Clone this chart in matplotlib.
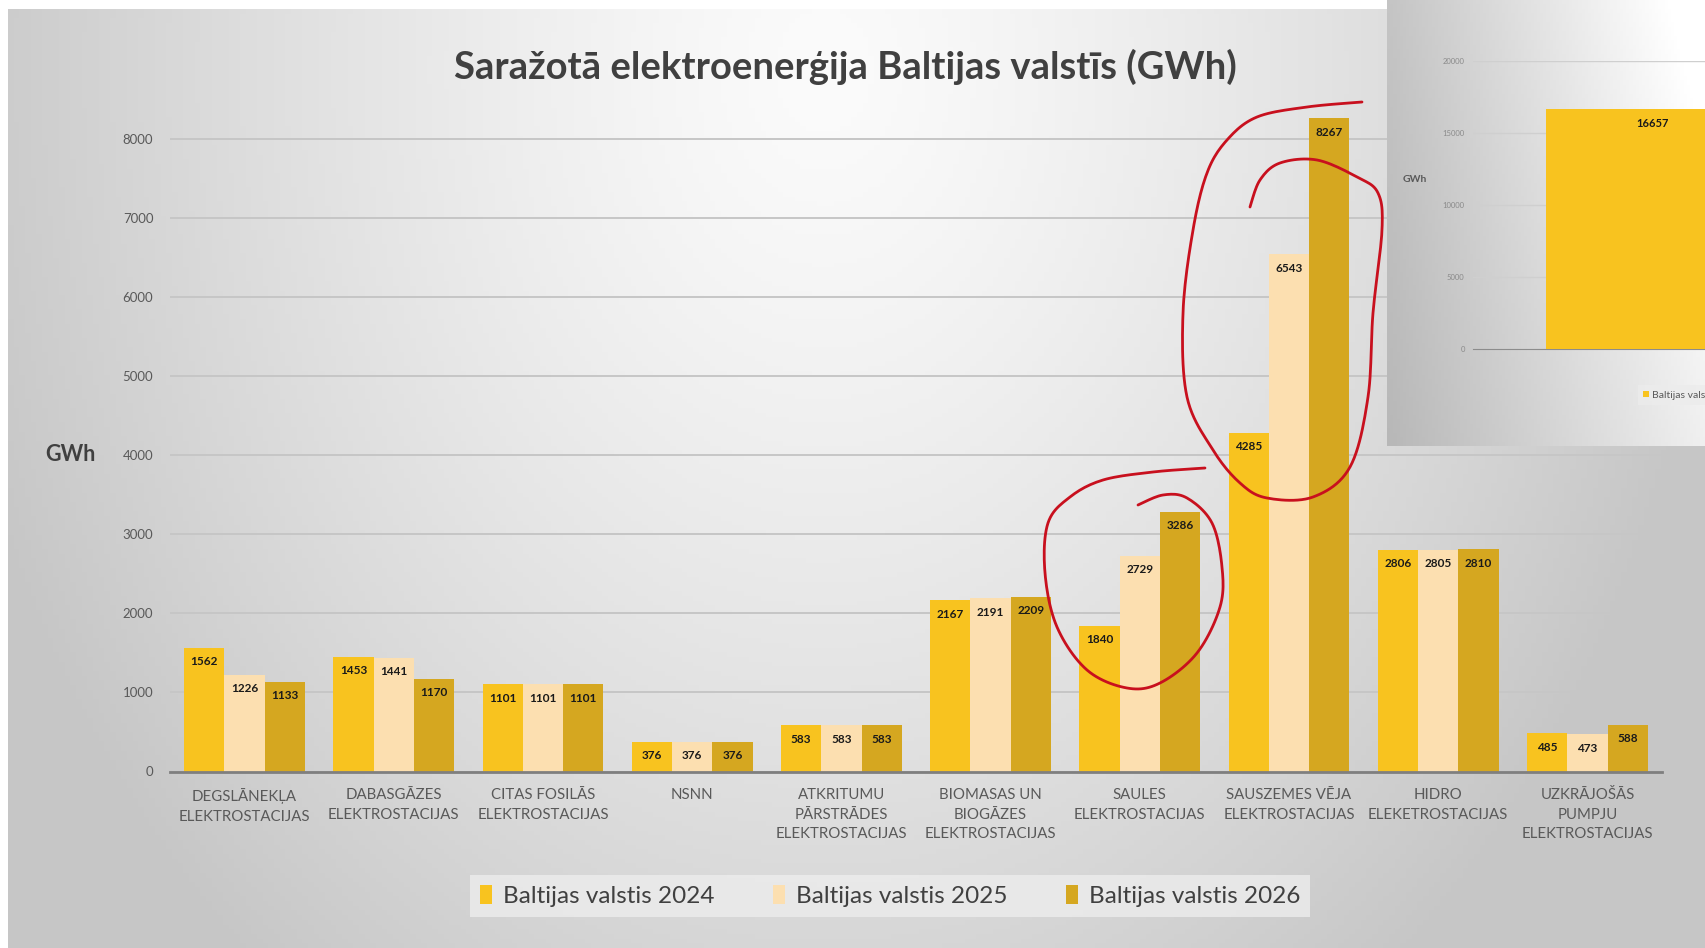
import numpy as np
import matplotlib
matplotlib.use("Agg")
import matplotlib.pyplot as plt
from matplotlib.patches import Patch

plt.rcParams['font.family'] = ['Lato', 'Open Sans', 'DejaVu Sans']

categories = [
    "DEGSLĀNEKĻA\nELEKTROSTACIJAS",
    "DABASGĀZES\nELEKTROSTACIJAS",
    "CITAS FOSILĀS\nELEKTROSTACIJAS",
    "NSNN",
    "ATKRITUMU\nPĀRSTRĀDES\nELEKTROSTACIJAS",
    "BIOMASAS UN\nBIOGĀZES\nELEKTROSTACIJAS",
    "SAULES\nELEKTROSTACIJAS",
    "SAUSZEMES VĒJA\nELEKTROSTACIJAS",
    "HIDRO\nELEKETROSTACIJAS",
    "UZKRĀJOŠĀS\nPUMPJU\nELEKTROSTACIJAS",
]
vals_2024 = [1562, 1453, 1101, 376, 583, 2167, 1840, 4285, 2806, 485]
vals_2025 = [1226, 1441, 1101, 376, 583, 2191, 2729, 6543, 2805, 473]
vals_2026 = [1133, 1170, 1101, 376, 583, 2209, 3286, 8267, 2810, 588]
series_names = ["Baltijas valstis 2024", "Baltijas valstis 2025", "Baltijas valstis 2026"]
colors = ["#F8C31F", "#FCDFB0", "#D5A720"]

inset_value = 16657

W, H = 1706, 948
fig = plt.figure(figsize=(W / 100, H / 100), dpi=100)
fig.patch.set_facecolor("white")

# background gradient (slide look)
bg = fig.add_axes([0, 0, 1, 1], zorder=0)
xx, yy = np.meshgrid(np.linspace(0, W, 300), np.linspace(0, H, 200))
r = np.sqrt(((xx - 820) / 880) ** 2 + ((yy - 60) / 1150) ** 2)
v = np.clip(0.985 - 0.2 * r ** 1.3, 0.78, 1)
bg.imshow(np.dstack([v, v, v]), extent=[8, W, H, 9], aspect="auto")
bg.set_xlim(0, W)
bg.set_ylim(H, 0)
bg.axis("off")

# main chart
ax = fig.add_axes([170 / W, (H - 771.5) / H, 1492 / W, 671.7 / H], zorder=1)
ax.patch.set_alpha(0)
x = np.arange(len(categories))
bw = 0.27
for k, (vals, name, c) in enumerate(zip([vals_2024, vals_2025, vals_2026], series_names, colors)):
    bars = ax.bar(x + (k - 1) * bw, vals, bw, color=c, label=name, zorder=3)
    for b, val in zip(bars, vals):
        ax.annotate(str(val), (b.get_x() + b.get_width() / 2, val), xytext=(0, -10),
                    textcoords="offset points", ha="center", va="center",
                    fontsize=8.5, fontweight="bold", color="#1a1a1a", zorder=4)

ax.set_xlim(-0.5, len(categories) - 0.5)
ax.set_ylim(0, 8500)
ax.set_yticks(range(0, 8001, 1000))
ax.yaxis.grid(True, color="#c6c6c6", lw=1.4)
ax.set_axisbelow(True)
for s in ["top", "right", "left"]:
    ax.spines[s].set_visible(False)
ax.spines["bottom"].set_color("#7f7f7f")
ax.spines["bottom"].set_linewidth(2)
ax.spines["bottom"].set_zorder(5)
ax.set_xticks(x)
ax.set_xticklabels(categories, fontsize=10.8, color="#595959", linespacing=1.5)
ax.tick_params(axis="both", length=0)
ax.tick_params(axis="x", pad=12)
ax.tick_params(axis="y", pad=12, labelsize=9.5, labelcolor="#595959")

fig.text(70 / W, 1 - 455 / H, "GWh", fontsize=15.5, fontweight="bold", color="#404040",
         ha="center", va="center")
fig.text(845 / W, 1 - 67 / H, "Saražotā elektroenerģija Baltijas valstīs (GWh)",
         fontsize=27.5, fontweight="bold", color="#404040", ha="center", va="center")

handles = [Patch(facecolor=c, edgecolor="none") for c in colors]
leg = ax.legend(handles, series_names, loc="center", bbox_to_anchor=(890 / W, 1 - 896 / H),
                bbox_transform=fig.transFigure, ncol=3, fontsize=17.5, frameon=True,
                fancybox=False, handlelength=0.5, handleheight=0.85, handletextpad=0.45,
                columnspacing=2.4, borderpad=0.4, labelcolor="#404040")
leg.get_frame().set_facecolor("#ededed")
leg.get_frame().set_edgecolor("none")
leg.get_frame().set_alpha(0.8)

# inset panel (pasted screenshot at top right)
pan = fig.add_axes([1387 / W, 1 - 446 / H, (W - 1387) / W, 446 / H], zorder=2)
px, py = np.meshgrid(np.linspace(0, 1, 100), np.linspace(0, 1, 100))
pv = np.clip(0.77 + 0.22 * px - 0.05 * py + 0.04 * (1 - py) * px, 0, 1)
pan.imshow(np.dstack([pv, pv, pv]), extent=[0, 1, 1, 0], aspect="auto")
pan.axis("off")

ins = fig.add_axes([1473 / W, 1 - 349 / H, 394 / W, 288 / H], zorder=3)
ins.patch.set_alpha(0)
ins.bar([0], [inset_value], 1.0, color="#F8C31F", zorder=3)
ins.annotate(str(inset_value), (0, inset_value), xytext=(0, -10), textcoords="offset points",
             ha="center", va="center", fontsize=8, fontweight="bold", color="#1a1a1a")
ins.set_xlim(-0.841, 1.0)
ins.set_ylim(0, 20000)
ins.set_yticks(range(0, 20001, 5000))
ins.set_xticks([])
ins.yaxis.grid(True, color="#cfcfcf", lw=1)
ins.set_axisbelow(True)
for s in ["top", "right", "left"]:
    ins.spines[s].set_visible(False)
ins.spines["bottom"].set_color("#8c8c8c")
ins.tick_params(axis="y", length=0, pad=6, labelsize=5.5, labelcolor="#8a8a8a")
fig.text(1415 / W, 1 - 179 / H, "GWh", fontsize=7.5, fontweight="bold", color="#595959",
         ha="center", va="center", zorder=4)
ileg = ins.legend([Patch(facecolor="#F8C31F", edgecolor="none")], ["Baltijas valstis 2024"],
                  loc="center left", bbox_to_anchor=(1633 / W, 1 - 395 / H),
                  bbox_transform=fig.transFigure, fontsize=7.5, fancybox=False,
                  handlelength=0.5, handleheight=0.6, handletextpad=0.3, borderpad=0.5,
                  labelcolor="#595959")
ileg.get_frame().set_facecolor("#ececec")
ileg.get_frame().set_edgecolor("none")

# hand-drawn red marks
ov = fig.add_axes([0, 0, 1, 1], zorder=5)
ov.set_xlim(0, W)
ov.set_ylim(H, 0)
ov.axis("off")


def smooth(pts, n=12):
    p = np.array(pts, float)
    p = np.vstack([p[0], p, p[-1]])
    out = []
    for i in range(1, len(p) - 2):
        p0, p1, p2, p3 = p[i - 1], p[i], p[i + 1], p[i + 2]
        for t in np.linspace(0, 1, n, endpoint=False):
            out.append(0.5 * (2 * p1 + (-p0 + p2) * t + (2 * p0 - 5 * p1 + 4 * p2 - p3) * t ** 2
                              + (-p0 + 3 * p1 - 3 * p2 + p3) * t ** 3))
    out.append(p[-2])
    return np.array(out)


big_loop = [(1362, 102), (1307, 107), (1257, 117), (1227, 140), (1207, 173), (1193, 230),
            (1183, 313), (1187, 397), (1213, 450), (1240, 483), (1267, 498), (1313, 497),
            (1350, 467), (1368, 397), (1373, 313), (1382, 230), (1378, 193), (1357, 177),
            (1317, 160), (1280, 163), (1260, 180), (1250, 207)]
small_loop = [(1205, 468), (1153, 472), (1103, 480), (1070, 497), (1048, 523), (1045, 573),
              (1057, 627), (1087, 670), (1127, 688), (1160, 683), (1197, 653), (1220, 607),
              (1222, 567), (1212, 523), (1187, 498), (1163, 495), (1138, 505)]
for loop in (big_loop, small_loop):
    c = smooth(loop)
    ov.plot(c[:, 0], c[:, 1], color="#c8101e", lw=2.0, solid_capstyle="round")

fig.savefig("out.png", dpi=100)
